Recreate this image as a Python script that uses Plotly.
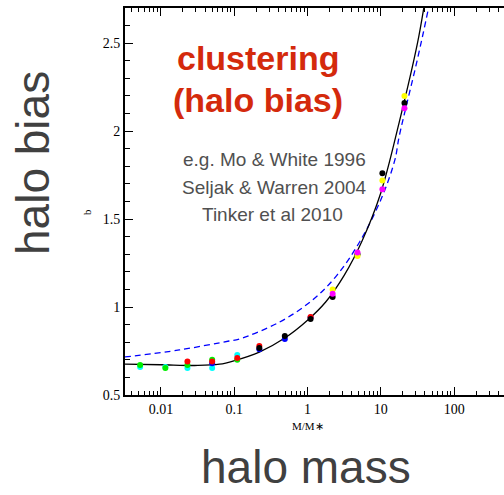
import plotly.graph_objects as go

# ---- data ---------------------------------------------------------------
# simulation measurements (M/M*, b) grouped by marker colour
red_m = [0.023, 0.05, 0.11, 0.22, 1.1]
red_b = [0.69, 0.69, 0.71, 0.778, 0.943]
green_m = [0.0052, 0.0115, 0.023, 0.05, 0.11]
green_b = [0.67, 0.653, 0.67, 0.70, 0.70]
cyan_m = [0.0052, 0.0115, 0.023, 0.05, 0.11]
cyan_b = [0.659, 0.659, 0.653, 0.653, 0.727]
blue_m = [0.05, 0.22, 0.49, 1.1]
blue_b = [0.68, 0.76, 0.818, 0.94]
black_m = [0.22, 0.49, 1.1, 2.2, 4.8, 10.5, 21]
black_b = [0.767, 0.835, 0.932, 1.057, 1.30, 1.76, 2.16]
yellow_m = [2.2, 4.8, 10.5, 21]
yellow_b = [1.10, 1.29, 1.72, 2.20]
magenta_m = [2.2, 4.8, 10.5, 21]
magenta_b = [1.075, 1.31, 1.67, 2.13]

# fitted bias relation (solid) and analytic model (dashed)
fit_m = [0.0032, 0.01, 0.032, 0.063, 0.1, 0.22, 0.49, 1.0, 1.78, 3.16, 5.6, 10.0, 17.8, 31.6, 40.0, 44.7]
fit_b = [0.676, 0.672, 0.668, 0.675, 0.695, 0.744, 0.824, 0.925, 1.03, 1.18, 1.38, 1.65, 2.05, 2.50, 2.74, 2.86]
model_m = [0.0032, 0.0178, 0.085, 0.117, 0.417, 1.17, 2.51, 5.13, 10.0, 15.5, 17.8, 31.6, 45.7, 55.0]
model_b = [0.716, 0.756, 0.807, 0.818, 0.915, 1.04, 1.18, 1.37, 1.61, 1.835, 1.97, 2.41, 2.72, 2.90]

x_tickvals = [0.01, 0.1, 1, 10, 100]
x_ticktext = ["0.01", "0.1", "1", "10", "100"]
y_tickvals = [0.5, 1, 1.5, 2, 2.5]
y_ticktext = ["0.5", "1", "1.5", "2", "2.5"]

# ---- figure -------------------------------------------------------------
W, H = 504, 495
ML, MR, MT, MB = 125, 0, 8, 100
PW, PH = W - ML - MR, H - MT - MB


def px(x):
    return (x - ML) / PW


def py(y):
    return (H - MB - y) / PH


fig = go.Figure()

fig.add_trace(go.Scatter(x=model_m, y=model_b, mode="lines", line_shape="spline",
                         line=dict(color="#0000ff", width=1.3, dash="6px,4px"),
                         hoverinfo="skip"))
fig.add_trace(go.Scatter(x=fit_m, y=fit_b, mode="lines", line_shape="spline",
                         line=dict(color="black", width=1.3), hoverinfo="skip"))

for xs, ys, col in [
    (cyan_m, cyan_b, "#00ffff"),
    (green_m, green_b, "#00ee00"),
    (blue_m, blue_b, "#0000ff"),
    (red_m, red_b, "#ff0000"),
    (black_m, black_b, "#000000"),
    (yellow_m, yellow_b, "#ffff00"),
    (magenta_m, magenta_b, "#ff00ff"),
]:
    fig.add_trace(go.Scatter(x=xs, y=ys, mode="markers",
                             marker=dict(color=col, size=6, line=dict(width=0))))

minor_x = [k * 10 ** e for e in range(-3, 3) for k in range(2, 10)]
tick_font = dict(family="Liberation Serif", size=14, color="black")

fig.update_xaxes(
    type="log", range=[-2.49, 2.68],
    showline=True, linecolor="black", linewidth=2, mirror="ticks",
    ticks="inside", ticklen=8, tickwidth=1.3, tickcolor="black",
    tickvals=x_tickvals, ticktext=x_ticktext, tickfont=tick_font,
    minor=dict(tickvals=minor_x, ticks="inside", ticklen=4, tickwidth=1.2,
               tickcolor="black", showgrid=False),
    showgrid=False, zeroline=False,
)
fig.update_yaxes(
    range=[0.5, 2.7],
    showline=True, linecolor="black", linewidth=2, mirror=False,
    ticks="inside", ticklen=8, tickwidth=1.3, tickcolor="black",
    tickvals=y_tickvals, ticktext=y_ticktext, tickfont=tick_font,
    minor=dict(dtick=0.1, tick0=0.5, ticks="inside", ticklen=5, tickwidth=1.2,
               tickcolor="black", showgrid=False),
    showgrid=False, zeroline=False,
)

annotations = [
    dict(text="b", x=px(87), y=py(212), textangle=-90,
         font=dict(family="Liberation Serif", size=11, color="black")),
    dict(text="M/M∗", x=px(308), y=py(426),
         font=dict(family="Liberation Serif", size=11, color="black")),
    dict(text="halo bias", x=px(33), y=py(163), textangle=-90,
         font=dict(family="Liberation Sans", size=46, color="#404040")),
    dict(text="halo mass", x=px(306), y=py(467),
         font=dict(family="Liberation Sans", size=46, color="#404040")),
    dict(text="<b>clustering</b>", x=px(258), y=py(58),
         font=dict(family="Liberation Sans", size=34, color="#d42a0c")),
    dict(text="<b>(halo bias)</b>", x=px(258), y=py(100),
         font=dict(family="Liberation Sans", size=34, color="#d42a0c")),
    dict(text="e.g. Mo &amp; White 1996", x=px(274), y=py(160),
         font=dict(family="Liberation Sans", size=19, color="#505050")),
    dict(text="Seljak &amp; Warren 2004", x=px(274), y=py(187),
         font=dict(family="Liberation Sans", size=19, color="#505050")),
    dict(text="Tinker et al 2010", x=px(272), y=py(214),
         font=dict(family="Liberation Sans", size=19, color="#505050")),
]
for a in annotations:
    a.update(xref="paper", yref="paper", showarrow=False,
             xanchor="center", yanchor="middle")
fig.update_layout(annotations=annotations)

fig.update_layout(
    width=W, height=H,
    margin=dict(l=ML, r=MR, t=MT, b=MB, pad=0),
    paper_bgcolor="white", plot_bgcolor="white",
    showlegend=False,
)

fig.write_html("out.html")
